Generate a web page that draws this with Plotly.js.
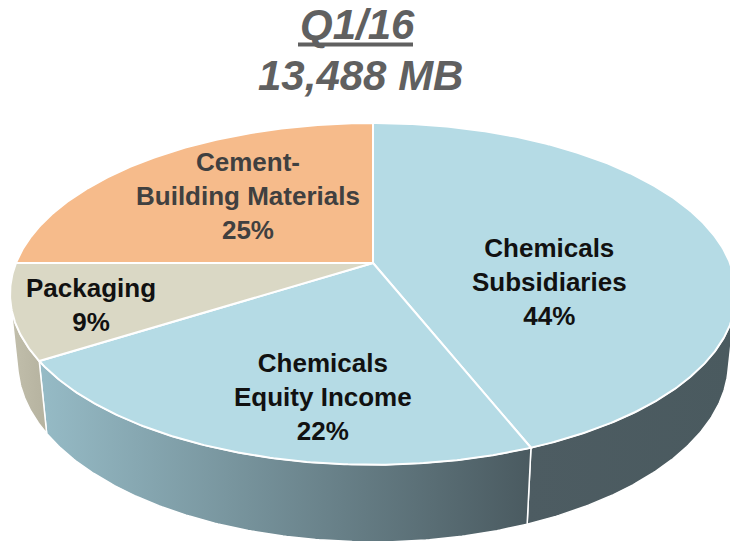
<!DOCTYPE html>
<html>
<head>
<meta charset="utf-8">
<script src="https://cdn.plot.ly/plotly-3.0.1.min.js"></script>
<style>
html,body{margin:0;padding:0;background:#fff;}
#chart{width:730px;height:547px;}
</style>
</head>
<body>
<div id="chart"></div>
<script>
// ---- data ----
const categories = ['Chemicals<br>Subsidiaries', 'Chemicals<br>Equity Income', 'Packaging', 'Cement-<br>Building Materials'];
const shares = [44, 22, 9, 25];
const titleLine1 = 'Q1/16';
const titleLine2 = '13,488 MB';

// ---- style ----
const topColors  = ['#b5dbe5', '#b5dbe5', '#dad8c5', '#f6bb8b'];
const sideColors = [
  [[0, '#4d5c62'], [1, '#4a5a5f']],
  [[0, '#96bbc6'], [1, '#4a5a60']],
  [[0, '#c2bfac'], [1, '#b5b29f']],
  [[0, '#e0a473'], [1, '#e0a473']]
];
const labelColors = ['#111111', '#111111', '#111111', '#404040'];
const labelPos = [[549, 282], [323, 397], [91, 305], [248, 196]];
const FONT = 'Liberation Sans, Arial, sans-serif';

// 3D projection parameters (screen px)
const CX = 373, CY = 263, S = 357;
const sinA = 0.463, cosA = 0.886, K = 0.204, H = 0.218;

function project(theta, rho, Y) {
  const X = rho * Math.sin(theta);
  const Z = -rho * Math.cos(theta);
  const d = 1 - K * (Y * sinA + Z * cosA);
  const sx = S * X / d;
  const sy = S * (Y * cosA - Z * sinA) / d;
  return [CX + sx, CY - sy];
}

const total = shares.reduce((a, b) => a + b, 0);
const bounds = [];
let acc = 0;
shares.forEach(v => { const a0 = acc / total * 2 * Math.PI; acc += v; bounds.push([a0, acc / total * 2 * Math.PI]); });

// visible range of the side wall
const cLim = -K / cosA;
const visA = Math.acos(cLim), visB = 2 * Math.PI - Math.acos(cLim);

function arc(a0, a1, Y) {
  const n = Math.max(4, Math.ceil(Math.abs(a1 - a0) * 180 / Math.PI * 2));
  const pts = [];
  for (let i = 0; i <= n; i++) pts.push(project(a0 + (a1 - a0) * i / n, 1, Y));
  return pts;
}

const traces = [];
// side walls
bounds.forEach((b, i) => {
  const a0 = Math.max(b[0], visA), a1 = Math.min(b[1], visB);
  if (a1 <= a0) return;
  const top = arc(a0, a1, 0);
  const bot = arc(a1, a0, -H);
  const pts = top.concat(bot);
  pts.push(pts[0]);
  traces.push({
    type: 'scatter', mode: 'lines', fill: 'toself',
    x: pts.map(p => p[0]), y: pts.map(p => p[1]),
    line: {color: '#ffffff', width: 1.5},
    fillcolor: sideColors[i][0][1],
    fillgradient: {type: 'horizontal', colorscale: sideColors[i]},
    hoverinfo: 'skip', showlegend: false
  });
});
// top faces
bounds.forEach((b, i) => {
  const pts = [[CX, CY]].concat(arc(b[0], b[1], 0));
  pts.push([CX, CY]);
  traces.push({
    type: 'scatter', mode: 'lines', fill: 'toself',
    x: pts.map(p => p[0]), y: pts.map(p => p[1]),
    line: {color: '#ffffff', width: 2},
    fillcolor: topColors[i],
    hoverinfo: 'skip', showlegend: false
  });
});

const annotations = categories.map((c, i) => ({
  x: labelPos[i][0], y: labelPos[i][1], xref: 'x', yref: 'y',
  text: '<b>' + c + '<br>' + shares[i] + '%</b>',
  showarrow: false, xanchor: 'center', yanchor: 'middle',
  font: {family: FONT, size: 26, color: labelColors[i]}
}));
annotations.push({
  x: 357, y: 25, xref: 'x', yref: 'y', showarrow: false,
  text: '<b><i>' + titleLine1 + '</i></b>',
  font: {family: FONT, size: 42, color: '#606060'}
});
annotations.push({
  x: 360, y: 75, xref: 'x', yref: 'y', showarrow: false,
  text: '<b><i>' + titleLine2 + '</i></b>',
  font: {family: FONT, size: 42, color: '#606060'}
});

const layout = {
  width: 730, height: 547,
  margin: {l: 0, r: 0, t: 0, b: 0},
  paper_bgcolor: '#ffffff', plot_bgcolor: '#ffffff',
  xaxis: {range: [0, 730], visible: false, fixedrange: true},
  yaxis: {range: [547, 0], visible: false, fixedrange: true},
  annotations: annotations,
  shapes: [{type: 'line', xref: 'x', yref: 'y', x0: 298, x1: 413, y0: 44.5, y1: 44.5,
            line: {color: '#606060', width: 4}}],
  showlegend: false
};

Plotly.newPlot('chart', traces, layout, {displayModeBar: false, staticPlot: true});
</script>
</body>
</html>
